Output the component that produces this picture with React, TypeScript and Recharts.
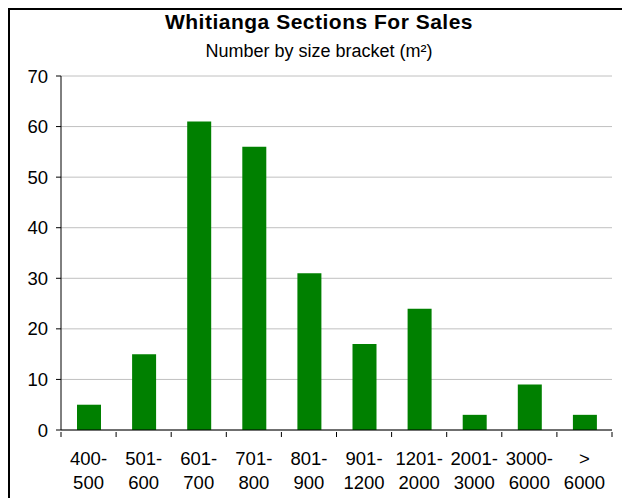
import { BarChart, Bar, XAxis, YAxis, CartesianGrid } from 'recharts'

const brackets = ['400-500', '501-600', '601-700', '701-800', '801-900', '901-1200', '1201-2000', '2001-3000', '3000-6000', '> 6000']
const labelTop = ['400-', '501-', '601-', '701-', '801-', '901-', '1201-', '2001-', '3000-', '>']
const labelBottom = ['500', '600', '700', '800', '900', '1200', '2000', '3000', '6000', '6000']
const counts = [5, 15, 61, 56, 31, 17, 24, 3, 9, 3]
const yTicks = [0, 10, 20, 30, 40, 50, 60, 70]

const data = brackets.map((b, i) => ({ bracket: b, count: counts[i] }))

const FONT = '"Liberation Sans", Arial, sans-serif'
const AXIS = '#000'
const GREEN = '#008000'

// two-line category label, with the tick mark drawn on the band's left edge
function BracketTick(props: any) {
  const { x, y, index, width } = props
  const band = (width ?? 551) / brackets.length
  const left = x - band / 2
  const axisY = y - 6
  const isLast = index === brackets.length - 1
  return (
    <g>
      <line x1={left} x2={left} y1={axisY} y2={axisY + 5} stroke={AXIS} />
      {isLast && <line x1={left + band} x2={left + band} y1={axisY} y2={axisY + 5} stroke={AXIS} />}
      <text x={x} y={axisY + 33} textAnchor="middle" fontSize={18.5} fontFamily={FONT} fill="#000">
        {labelTop[index]}
      </text>
      <text x={x} y={axisY + 57} textAnchor="middle" fontSize={18.5} fontFamily={FONT} fill="#000">
        {labelBottom[index]}
      </text>
    </g>
  )
}

export default function App() {
  return (
    <div
      style={{
        position: 'absolute', left: 8, top: 8, width: 614, height: 490,
        overflow: 'hidden', fontFamily: FONT,
      }}
    >
      {/* chart frame, only top and left edges fall inside the picture */}
      <div
        style={{
          position: 'absolute', left: 0, top: 0, width: 700, height: 600,
          borderTop: '2px solid #000', borderLeft: '2px solid #000',
        }}
      />
      <div
        style={{
          position: 'absolute', left: 0, top: 3, width: 622, textAlign: 'center',
          fontSize: 21, lineHeight: '21px', fontWeight: 'bold', letterSpacing: 0.5, color: '#000',
        }}
      >
        Whitianga Sections For Sales
      </div>
      <div
        style={{
          position: 'absolute', left: 0, top: 34, width: 622, textAlign: 'center',
          fontSize: 18, lineHeight: '18px', color: '#000',
        }}
      >
        Number by size bracket (m²)
      </div>
      <div style={{ position: 'absolute', left: 0, top: 0 }}>
        <BarChart
          width={614}
          height={490}
          data={data}
          margin={{ top: 68, right: 10, left: 0, bottom: 8 }}
          barSize={24}
        >
          <CartesianGrid vertical={false} stroke="#c0c0c0" />
          <XAxis
            dataKey="bracket"
            height={60}
            interval={0}
            axisLine={{ stroke: AXIS }}
            tickLine={false}
            tick={<BracketTick />}
          />
          <YAxis
            width={53}
            domain={[0, 70]}
            ticks={yTicks}
            interval={0}
            axisLine={{ stroke: AXIS }}
            tickLine={{ stroke: AXIS }}
            tickSize={5}
            tickMargin={8}
            tick={{ fill: '#000', fontSize: 18.5, fontFamily: FONT }}
          />
          <Bar dataKey="count" fill={GREEN} isAnimationActive={false} />
        </BarChart>
      </div>
    </div>
  )
}
